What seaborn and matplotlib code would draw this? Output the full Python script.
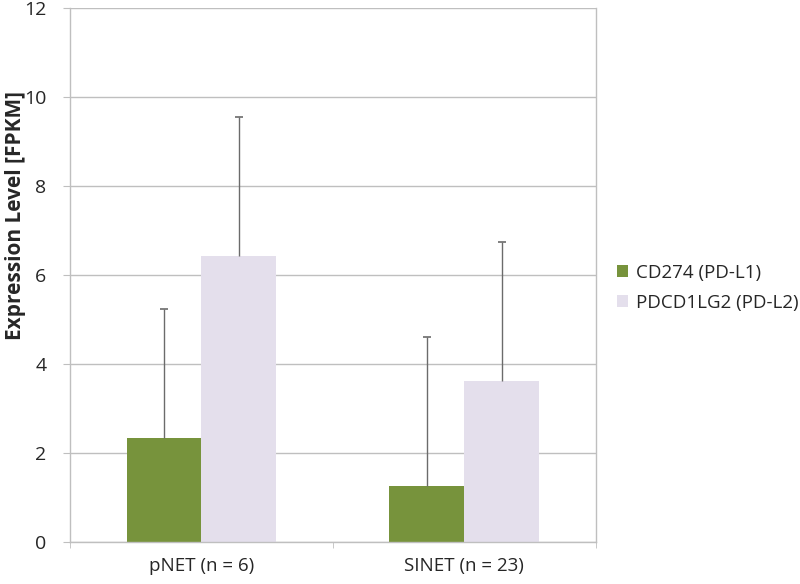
import pandas as pd
import matplotlib.pyplot as plt
import seaborn as sns

groups = ["pNET (n = 6)", "SINET (n = 23)"]
genes = ["CD274 (PD-L1)", "PDCD1LG2 (PD-L2)"]
cd274_mean = [2.34, 1.26]
cd274_sd = [2.90, 3.35]
pdl2_mean = [6.43, 3.62]
pdl2_sd = [3.12, 3.12]

df = pd.DataFrame({
    "group": groups * 2,
    "gene": [genes[0]] * 2 + [genes[1]] * 2,
    "value": cd274_mean + pdl2_mean,
    "sd": cd274_sd + pdl2_sd,
})

sns.set_style("white")
plt.rcParams['font.family'] = ['Open Sans', 'DejaVu Sans']

fig = plt.figure(figsize=(8, 5.84), dpi=100)
ax = fig.add_axes([0.0875, 0.072, 0.657, 0.914])

colors = ["#77933C", "#E4DFEC"]
sns.barplot(data=df, x="group", y="value", hue="gene", palette=colors,
            width=0.57, gap=0, errorbar=None, saturation=1, linewidth=0,
            ax=ax, zorder=2)

# upper-only error bars (stem + top cap)
for cont, (_, sub) in zip(ax.containers, df.groupby("gene", sort=False)):
    xs = [b.get_x() + b.get_width() / 2 for b in cont]
    tops = sub["value"] + sub["sd"]
    ax.errorbar(xs, sub["value"], yerr=[[0] * len(xs), list(sub["sd"])],
                fmt="none", ecolor="#6b6b6b", elinewidth=1, capsize=0,
                zorder=3)
    ax.plot(xs, tops, ls="none", marker="_", ms=6, mew=1.2,
            color="#6b6b6b", zorder=3)

ax.set_ylim(0, 12)
ax.set_xlim(-0.5, 1.5)
ax.set_yticks(range(0, 13, 2))
ax.yaxis.grid(True, color="#BFBFBF", linewidth=1)
ax.set_axisbelow(True)
ax.set_xlabel("")
ax.set_ylabel("Expression Level [FPKM]", fontsize=15, fontweight="bold")
ax.yaxis.set_label_coords(-0.084, 0.612)
ax.tick_params(axis="y", labelsize=14, length=5, pad=12, color="#BFBFBF",
               left=True)
ax.tick_params(axis="x", labelsize=13.5, length=0, pad=11)
ax.set_xticks([-0.5, 0.5, 1.5], minor=True)
ax.tick_params(axis="x", which="minor", length=4, color="#BFBFBF", bottom=True)

for side in ["left", "right", "bottom"]:
    ax.spines[side].set_color("#BFBFBF")
    ax.spines[side].set_linewidth(1)
ax.spines["top"].set_visible(False)

ax.legend(loc="center left", bbox_to_anchor=(1.04, 0.476), frameon=False,
          fontsize=13.5, handlelength=0.6, handleheight=0.6,
          handletextpad=0.45, labelspacing=0.65, borderpad=0,
          borderaxespad=0)

fig.savefig("out.png", dpi=100)
